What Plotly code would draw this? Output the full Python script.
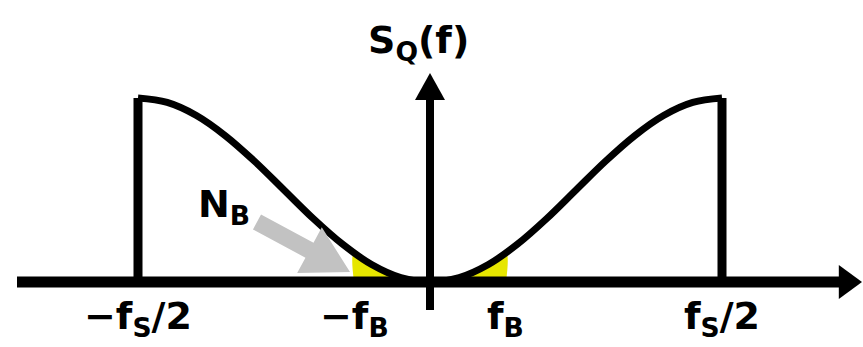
import math
import plotly.graph_objects as go

# Normalised frequency (f / fs) and shaped quantisation-noise density S_Q(f)
freq = [-0.50, -0.45, -0.40, -0.35, -0.30, -0.25, -0.20, -0.15, -0.10, -0.05, 0.00,
        0.05, 0.10, 0.15, 0.20, 0.25, 0.30, 0.35, 0.40, 0.45, 0.50]
noise = [1.00, 0.976, 0.905, 0.794, 0.655, 0.50, 0.345, 0.206, 0.095, 0.024, 0.00,
         0.024, 0.095, 0.206, 0.345, 0.50, 0.655, 0.794, 0.905, 0.976, 1.00]

# In-band portion (|f| < fB) that is highlighted
band_freq = [-0.13, -0.10, -0.05, 0.00, 0.05, 0.10, 0.13]
band_noise = [0.16, 0.095, 0.024, 0.00, 0.024, 0.095, 0.16]

fs_half = 0.5
fB = 0.13

tick_pos = [-fs_half, -fB, fB, fs_half]
tick_text = ["\u2212f<sub>S</sub>/2", "\u2212f<sub>B</sub>", "f<sub>B</sub>", "f<sub>S</sub>/2"]

# pixel scale of the axes
W, H = 863, 347
X0, XS = 430.0, 584.0          # pixel of f=0, pixels per unit f
Y0, YS = 282.0, 184.0          # pixel of S=0, pixels per unit S
xr = [(0 - X0) / XS, (W - X0) / XS]
yr = [(Y0 - H) / YS, (Y0 - 0) / YS]


def px(xp, yp):
    return (xp - X0) / XS, (Y0 - yp) / YS


BLACK = "#000000"
YELLOW = "#e6e600"
GREY = "#c2c2c2"

fig = go.Figure()

# highlighted in-band noise
fig.add_trace(go.Scatter(
    x=[band_freq[0]] + band_freq + [band_freq[-1]],
    y=[0] + band_noise + [0],
    mode="lines", fill="toself", fillcolor=YELLOW,
    line=dict(width=0, color=YELLOW, shape="spline"), hoverinfo="skip"))

# horizontal frequency axis with arrowhead
ax_l, _ = px(17, 0)
ax_r, _ = px(840, 0)
fig.add_trace(go.Scatter(x=[ax_l, ax_r], y=[0, 0], mode="lines",
                         line=dict(color=BLACK, width=11), hoverinfo="skip"))
tx, _ = px(862, 0)
_, hh = px(0, Y0 - 17)
fig.add_trace(go.Scatter(x=[ax_r - 0.002, tx, ax_r - 0.002, ax_r - 0.002],
                         y=[hh, 0, -hh, hh], mode="lines", fill="toself",
                         fillcolor=BLACK, line=dict(width=0, color=BLACK),
                         hoverinfo="skip"))

# vertical S_Q axis with arrowhead
_, vb = px(0, 310)
_, vt = px(0, 100)
_, vtip = px(0, 73)
hw = 15 / XS
fig.add_trace(go.Scatter(x=[0, 0], y=[vb, vt + 0.01], mode="lines",
                         line=dict(color=BLACK, width=8), hoverinfo="skip"))
fig.add_trace(go.Scatter(x=[-hw, 0, hw, -hw], y=[vt, vtip, vt, vt],
                         mode="lines", fill="toself", fillcolor=BLACK,
                         line=dict(width=0, color=BLACK), hoverinfo="skip"))

# band edges at +/- fs/2
for xe in (-fs_half, fs_half):
    fig.add_trace(go.Scatter(x=[xe, xe], y=[0, noise[0]], mode="lines",
                             line=dict(color=BLACK, width=9), hoverinfo="skip"))

# noise-shaping curve
fig.add_trace(go.Scatter(x=freq, y=noise, mode="lines",
                         line=dict(color=BLACK, width=7, shape="spline"),
                         hoverinfo="skip"))

# grey pointer towards the in-band noise
tail = (257.0, 222.0)
tip = (350.0, 272.0)
dx, dy = tip[0] - tail[0], tip[1] - tail[1]
L = math.hypot(dx, dy)
ux, uy = dx / L, dy / L
nx, ny = -uy, ux
head_len, head_w, shaft_w = 46.0, 52.0, 17.0
bx, by = tip[0] - ux * head_len, tip[1] - uy * head_len
pts = [
    (tail[0] + nx * shaft_w / 2, tail[1] + ny * shaft_w / 2),
    (bx + nx * shaft_w / 2, by + ny * shaft_w / 2),
    (bx + nx * head_w / 2, by + ny * head_w / 2),
    tip,
    (bx - nx * head_w / 2, by - ny * head_w / 2),
    (bx - nx * shaft_w / 2, by - ny * shaft_w / 2),
    (tail[0] - nx * shaft_w / 2, tail[1] - ny * shaft_w / 2),
]
pts.append(pts[0])
conv = [px(a, b) for a, b in pts]
fig.add_trace(go.Scatter(x=[c[0] for c in conv], y=[c[1] for c in conv],
                         mode="lines", fill="toself", fillcolor=GREY,
                         line=dict(width=0, color=GREY), hoverinfo="skip"))

FONT = "DejaVu Sans"
FS = 38
ann = []
_, lab_y = px(0, 318)
for xp, t in zip(tick_pos, tick_text):
    ann.append(dict(x=xp, y=lab_y, text="<b>" + t + "</b>", showarrow=False,
                    xanchor="center", yanchor="middle",
                    font=dict(family=FONT, size=FS, color=BLACK)))

nbx, nby = px(224, 206)
ann.append(dict(x=nbx, y=nby, text="<b>N<sub>B</sub></b>", showarrow=False,
                xanchor="center", yanchor="middle",
                font=dict(family=FONT, size=FS, color=BLACK)))
sqx, sqy = px(418, 42)
ann.append(dict(x=sqx, y=sqy, text="<b>S<sub>Q</sub>(f)</b>", showarrow=False,
                xanchor="center", yanchor="middle",
                font=dict(family=FONT, size=FS, color=BLACK)))

fig.update_layout(
    width=W, height=H, margin=dict(l=0, r=0, t=0, b=0),
    paper_bgcolor="white", plot_bgcolor="white", showlegend=False,
    xaxis=dict(range=xr, visible=False, fixedrange=True),
    yaxis=dict(range=yr, visible=False, fixedrange=True),
    annotations=ann,
)

fig.write_html("out.html")
